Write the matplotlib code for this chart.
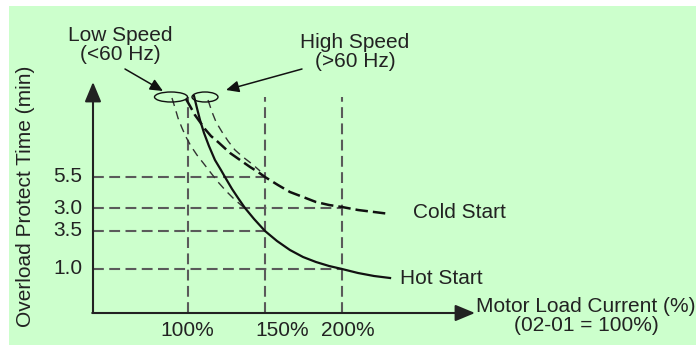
import matplotlib
matplotlib.use("Agg")
import matplotlib.pyplot as plt
from matplotlib.patches import Rectangle, Ellipse

plt.rcParams['font.family'] = ['Liberation Sans', 'DejaVu Sans']

# ---------------- data (x: motor load current %, y: schematic time level) -------------
x_ticks = [100, 150, 200]
x_tick_labels = ["100%", "150%", "200%"]
y_levels = [136, 105, 82, 44]
y_tick_labels = ["5.5", "3.0", "3.5", "1.0"]
# which vertical line each horizontal reference line runs to
y_line_end = [150, 200, 150, 200]

hot_x = [103.9, 105.8, 107.8, 110.4, 113.6, 117.5, 121.4, 124.0, 128.6, 132.5, 137.0,
         142.9, 150.0, 157.8, 166.2, 174.7, 183.1, 191.6, 200.0, 210.4, 220.8, 231.2]
hot_y = [217, 205, 193, 180, 167, 153, 143, 136, 124, 115, 105,
         94, 82, 72, 63, 56, 51, 47, 44, 40, 37, 35]

cold_x = [98.7, 101.3, 104.5, 107.8, 111.0, 114.9, 119.5, 127.3, 133.8, 140.3, 145.5, 150.0,
          158.4, 166.2, 174.7, 183.1, 191.6, 200.0, 210.4, 220.8, 231.2]
cold_y = [214, 207, 198, 191, 184, 177, 171, 160, 153, 146, 141, 136,
          128, 121, 116, 111, 108, 106, 103, 101, 99]

hs_cold_x = [113.0, 115.6, 118.2, 122.1, 126.0, 130.5, 135.7, 141.6, 146.8]
hs_cold_y = [213, 201, 191, 181, 172, 163, 156, 149, 142]

ls_hot_x = [89.6, 91.6, 93.5, 96.1, 98.7, 101.9, 105.8, 110.4, 114.9, 119.5, 124.7, 129.9, 134.4, 138.3]
ls_hot_y = [215, 205, 195, 185, 176, 167, 158, 149, 140, 131, 122, 114, 108, 103]

# ---------------- figure ----------------
fig = plt.figure(figsize=(6.96, 3.45), dpi=100)
fig.patch.set_facecolor('white')
ax = fig.add_axes([0, 0, 1, 1])
ax.set_facecolor('none')
ax.axis('off')
ax.add_patch(Rectangle((9/696, 0), 1 - 9/696, 339/345, transform=ax.transAxes,
                       facecolor='#ccffcc', edgecolor='none', zorder=0))

S = 1.54  # px per percent
def X(px):
    return 100 + (px - 188) / S
def Y(py):
    return 313 - py

ax.set_xlim(X(0), X(696))
ax.set_ylim(Y(345), Y(0))

x0, y0 = X(93), 0
top_y = 216

grid_kw = dict(color='#5a5a5a', lw=1.5, linestyle=(0, (5.2, 2.6)), zorder=2)
for xv in x_ticks:
    ax.plot([xv, xv], [y0, top_y], **grid_kw)
for yv, xe in zip(y_levels, y_line_end):
    ax.plot([x0, xe], [yv, yv], **grid_kw)

# curves
ax.plot(ls_hot_x, ls_hot_y, color='#333333', lw=1.0, linestyle=(0, (6, 4)), zorder=3)
ax.plot(hs_cold_x, hs_cold_y, color='#333333', lw=1.0, linestyle=(0, (6, 4)), zorder=3)
ax.plot(cold_x, cold_y, color='#111111', lw=1.8, linestyle=(0, (5, 2)), zorder=4)
ax.plot(hot_x, hot_y, color='#111111', lw=1.6, zorder=5)

# ellipses
ax.add_patch(Ellipse((X(171), Y(97)), 33 / S, 10, fill=False, edgecolor='#111111', lw=1.0, zorder=6))
ax.add_patch(Ellipse((X(205), Y(97)), 26 / S, 10, fill=False, edgecolor='#111111', lw=1.0, zorder=6))

# axes with arrows
axis_arrow = dict(arrowstyle='-|>,head_length=0.6,head_width=0.25', color='#222222',
                  lw=1.5, shrinkA=0, shrinkB=0, mutation_scale=20)
ax.annotate('', xy=(x0, Y(82)), xytext=(x0, y0), arrowprops=axis_arrow, zorder=7)
ax.annotate('', xy=(X(475), y0), xytext=(x0 - 0.5, y0), arrowprops=axis_arrow, zorder=7)

tc = '#222222'
fs = 15
for yv, lab in zip(y_levels, y_tick_labels):
    ax.text(X(82), yv, lab, ha='right', va='center', fontsize=fs, color=tc)
for xp, lab in zip([187, 282, 348], x_tick_labels):
    ax.text(X(xp), Y(331), lab, ha='center', va='center', fontsize=fs, color=tc)

ax.text(X(26), Y(196), "Overload Protect Time (min)", rotation=90, ha='center', va='center',
        fontsize=fs, color=tc)
ax.text(X(586), Y(316), "Motor Load Current (%)\n(02-01 = 100%)", ha='center', va='center',
        fontsize=fs, color=tc, linespacing=1.0)
ax.text(X(413), Y(213), "Cold Start", ha='left', va='center', fontsize=fs, color=tc)
ax.text(X(400), Y(279), "Hot Start", ha='left', va='center', fontsize=fs, color=tc)
ax.text(X(120), Y(45), "Low Speed\n(<60 Hz)", ha='center', va='center', fontsize=fs,
        color=tc, linespacing=1.0)
ax.text(X(355), Y(52), "High Speed\n(>60 Hz)", ha='center', va='center', fontsize=fs,
        color=tc, linespacing=1.0)

small_arrow = dict(arrowstyle='-|>,head_length=0.55,head_width=0.25', color='#111111',
                   lw=1.1, shrinkA=0, shrinkB=0, mutation_scale=14)
ax.annotate('', xy=(X(163), Y(91)), xytext=(X(125), Y(69)), arrowprops=small_arrow)
ax.annotate('', xy=(X(226), Y(90)), xytext=(X(302), Y(69)), arrowprops=small_arrow)

fig.savefig('out.png', dpi=100, facecolor=fig.get_facecolor())
